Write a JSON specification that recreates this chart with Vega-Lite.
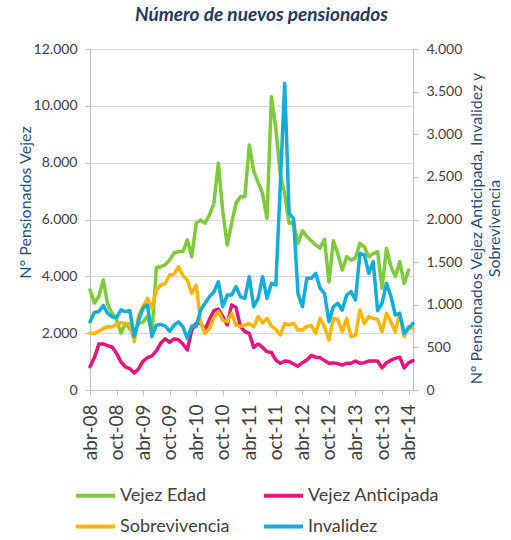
{
  "$schema": "https://vega.github.io/schema/vega-lite/v6.json",
  "width": 323,
  "height": 341,
  "autosize": {"type": "none"},
  "padding": {"left": 90, "top": 49, "right": 98, "bottom": 150},
  "background": "white",
  "title": {"text": "Número de nuevos pensionados", "font": "Lato", "fontSize": 19, "fontStyle": "italic", "fontWeight": "bold", "color": "#1F3864", "anchor": "middle", "offset": 17, "dx": 10},
  "config": {"view": {"stroke": null}},
  "data": {"values": [
    {"mes": "abr-08", "Vejez Edad": 3520, "Vejez Anticipada": 274, "Sobrevivencia": 665, "Invalidez": 800},
    {"mes": "may-08", "Vejez Edad": 3060, "Vejez Anticipada": 380, "Sobrevivencia": 665, "Invalidez": 910},
    {"mes": "jun-08", "Vejez Edad": 3300, "Vejez Anticipada": 540, "Sobrevivencia": 690, "Invalidez": 920},
    {"mes": "jul-08", "Vejez Edad": 3870, "Vejez Anticipada": 540, "Sobrevivencia": 720, "Invalidez": 990},
    {"mes": "ago-08", "Vejez Edad": 3000, "Vejez Anticipada": 520, "Sobrevivencia": 743, "Invalidez": 900},
    {"mes": "sep-08", "Vejez Edad": 2700, "Vejez Anticipada": 505, "Sobrevivencia": 740, "Invalidez": 860},
    {"mes": "oct-08", "Vejez Edad": 2460, "Vejez Anticipada": 430, "Sobrevivencia": 770, "Invalidez": 850},
    {"mes": "nov-08", "Vejez Edad": 2000, "Vejez Anticipada": 330, "Sobrevivencia": 790, "Invalidez": 940},
    {"mes": "dic-08", "Vejez Edad": 2350, "Vejez Anticipada": 270, "Sobrevivencia": 770, "Invalidez": 920},
    {"mes": "ene-09", "Vejez Edad": 2150, "Vejez Anticipada": 250, "Sobrevivencia": 780, "Invalidez": 930},
    {"mes": "feb-09", "Vejez Edad": 2000, "Vejez Anticipada": 200, "Sobrevivencia": 570, "Invalidez": 626},
    {"mes": "mar-09", "Vejez Edad": 2350, "Vejez Anticipada": 250, "Sobrevivencia": 880, "Invalidez": 821},
    {"mes": "abr-09", "Vejez Edad": 2400, "Vejez Anticipada": 340, "Sobrevivencia": 980, "Invalidez": 960},
    {"mes": "may-09", "Vejez Edad": 2600, "Vejez Anticipada": 380, "Sobrevivencia": 1075, "Invalidez": 997},
    {"mes": "jun-09", "Vejez Edad": 2000, "Vejez Anticipada": 400, "Sobrevivencia": 958, "Invalidez": 626},
    {"mes": "jul-09", "Vejez Edad": 4310, "Vejez Anticipada": 460, "Sobrevivencia": 1173, "Invalidez": 760},
    {"mes": "ago-09", "Vejez Edad": 4340, "Vejez Anticipada": 550, "Sobrevivencia": 1232, "Invalidez": 770},
    {"mes": "sep-09", "Vejez Edad": 4400, "Vejez Anticipada": 600, "Sobrevivencia": 1250, "Invalidez": 750},
    {"mes": "oct-09", "Vejez Edad": 4580, "Vejez Anticipada": 560, "Sobrevivencia": 1349, "Invalidez": 690},
    {"mes": "nov-09", "Vejez Edad": 4820, "Vejez Anticipada": 600, "Sobrevivencia": 1360, "Invalidez": 760},
    {"mes": "dic-09", "Vejez Edad": 4870, "Vejez Anticipada": 590, "Sobrevivencia": 1447, "Invalidez": 800},
    {"mes": "ene-10", "Vejez Edad": 4870, "Vejez Anticipada": 540, "Sobrevivencia": 1340, "Invalidez": 740},
    {"mes": "feb-10", "Vejez Edad": 5280, "Vejez Anticipada": 469, "Sobrevivencia": 1290, "Invalidez": 606},
    {"mes": "mar-10", "Vejez Edad": 4690, "Vejez Anticipada": 704, "Sobrevivencia": 1134, "Invalidez": 750},
    {"mes": "abr-10", "Vejez Edad": 5870, "Vejez Anticipada": 782, "Sobrevivencia": 1232, "Invalidez": 743},
    {"mes": "may-10", "Vejez Edad": 5980, "Vejez Anticipada": 782, "Sobrevivencia": 800, "Invalidez": 938},
    {"mes": "jun-10", "Vejez Edad": 5870, "Vejez Anticipada": 704, "Sobrevivencia": 665, "Invalidez": 1017},
    {"mes": "jul-10", "Vejez Edad": 6160, "Vejez Anticipada": 830, "Sobrevivencia": 720, "Invalidez": 1095},
    {"mes": "ago-10", "Vejez Edad": 6570, "Vejez Anticipada": 930, "Sobrevivencia": 850, "Invalidez": 1150},
    {"mes": "sep-10", "Vejez Edad": 7980, "Vejez Anticipada": 950, "Sobrevivencia": 919, "Invalidez": 1271},
    {"mes": "oct-10", "Vejez Edad": 6300, "Vejez Anticipada": 860, "Sobrevivencia": 820, "Invalidez": 977},
    {"mes": "nov-10", "Vejez Edad": 5100, "Vejez Anticipada": 762, "Sobrevivencia": 801, "Invalidez": 1114},
    {"mes": "dic-10", "Vejez Edad": 5870, "Vejez Anticipada": 997, "Sobrevivencia": 900, "Invalidez": 1114},
    {"mes": "ene-11", "Vejez Edad": 6570, "Vejez Anticipada": 970, "Sobrevivencia": 760, "Invalidez": 1212},
    {"mes": "feb-11", "Vejez Edad": 6800, "Vejez Anticipada": 743, "Sobrevivencia": 743, "Invalidez": 1095},
    {"mes": "mar-11", "Vejez Edad": 6800, "Vejez Anticipada": 684, "Sobrevivencia": 762, "Invalidez": 1075},
    {"mes": "abr-11", "Vejez Edad": 8620, "Vejez Anticipada": 665, "Sobrevivencia": 780, "Invalidez": 1329},
    {"mes": "may-11", "Vejez Edad": 7700, "Vejez Anticipada": 500, "Sobrevivencia": 740, "Invalidez": 977},
    {"mes": "jun-11", "Vejez Edad": 7300, "Vejez Anticipada": 540, "Sobrevivencia": 860, "Invalidez": 1075},
    {"mes": "jul-11", "Vejez Edad": 6920, "Vejez Anticipada": 500, "Sobrevivencia": 790, "Invalidez": 1329},
    {"mes": "ago-11", "Vejez Edad": 6040, "Vejez Anticipada": 450, "Sobrevivencia": 841, "Invalidez": 1075},
    {"mes": "sep-11", "Vejez Edad": 10320, "Vejez Anticipada": 440, "Sobrevivencia": 750, "Invalidez": 1251},
    {"mes": "oct-11", "Vejez Edad": 9200, "Vejez Anticipada": 350, "Sobrevivencia": 710, "Invalidez": 1232},
    {"mes": "nov-11", "Vejez Edad": 7600, "Vejez Anticipada": 313, "Sobrevivencia": 645, "Invalidez": 2400},
    {"mes": "dic-11", "Vejez Edad": 6900, "Vejez Anticipada": 340, "Sobrevivencia": 780, "Invalidez": 3598},
    {"mes": "ene-12", "Vejez Edad": 5870, "Vejez Anticipada": 335, "Sobrevivencia": 765, "Invalidez": 2073},
    {"mes": "feb-12", "Vejez Edad": 5900, "Vejez Anticipada": 305, "Sobrevivencia": 782, "Invalidez": 2014},
    {"mes": "mar-12", "Vejez Edad": 5150, "Vejez Anticipada": 280, "Sobrevivencia": 704, "Invalidez": 1134},
    {"mes": "abr-12", "Vejez Edad": 5600, "Vejez Anticipada": 320, "Sobrevivencia": 704, "Invalidez": 977},
    {"mes": "may-12", "Vejez Edad": 5400, "Vejez Anticipada": 352, "Sobrevivencia": 743, "Invalidez": 1310},
    {"mes": "jun-12", "Vejez Edad": 5250, "Vejez Anticipada": 405, "Sobrevivencia": 760, "Invalidez": 1310},
    {"mes": "jul-12", "Vejez Edad": 5100, "Vejez Anticipada": 385, "Sobrevivencia": 665, "Invalidez": 1369},
    {"mes": "ago-12", "Vejez Edad": 5000, "Vejez Anticipada": 380, "Sobrevivencia": 841, "Invalidez": 1193},
    {"mes": "sep-12", "Vejez Edad": 5300, "Vejez Anticipada": 345, "Sobrevivencia": 740, "Invalidez": 1134},
    {"mes": "oct-12", "Vejez Edad": 3800, "Vejez Anticipada": 315, "Sobrevivencia": 586, "Invalidez": 801},
    {"mes": "nov-12", "Vejez Edad": 5250, "Vejez Anticipada": 318, "Sobrevivencia": 841, "Invalidez": 977},
    {"mes": "dic-12", "Vejez Edad": 4800, "Vejez Anticipada": 310, "Sobrevivencia": 830, "Invalidez": 1017},
    {"mes": "ene-13", "Vejez Edad": 4220, "Vejez Anticipada": 293, "Sobrevivencia": 684, "Invalidez": 938},
    {"mes": "feb-13", "Vejez Edad": 4690, "Vejez Anticipada": 313, "Sobrevivencia": 841, "Invalidez": 1114},
    {"mes": "mar-13", "Vejez Edad": 4570, "Vejez Anticipada": 313, "Sobrevivencia": 626, "Invalidez": 1153},
    {"mes": "abr-13", "Vejez Edad": 4650, "Vejez Anticipada": 340, "Sobrevivencia": 640, "Invalidez": 1056},
    {"mes": "may-13", "Vejez Edad": 5160, "Vejez Anticipada": 315, "Sobrevivencia": 938, "Invalidez": 1603},
    {"mes": "jun-13", "Vejez Edad": 5040, "Vejez Anticipada": 320, "Sobrevivencia": 782, "Invalidez": 1584},
    {"mes": "jul-13", "Vejez Edad": 4690, "Vejez Anticipada": 340, "Sobrevivencia": 860, "Invalidez": 1369},
    {"mes": "ago-13", "Vejez Edad": 4800, "Vejez Anticipada": 340, "Sobrevivencia": 840, "Invalidez": 1505},
    {"mes": "sep-13", "Vejez Edad": 4870, "Vejez Anticipada": 340, "Sobrevivencia": 830, "Invalidez": 930},
    {"mes": "oct-13", "Vejez Edad": 3580, "Vejez Anticipada": 260, "Sobrevivencia": 684, "Invalidez": 1017},
    {"mes": "nov-13", "Vejez Edad": 4990, "Vejez Anticipada": 320, "Sobrevivencia": 900, "Invalidez": 1251},
    {"mes": "dic-13", "Vejez Edad": 4340, "Vejez Anticipada": 350, "Sobrevivencia": 800, "Invalidez": 1100},
    {"mes": "ene-14", "Vejez Edad": 3990, "Vejez Anticipada": 371, "Sobrevivencia": 684, "Invalidez": 880},
    {"mes": "feb-14", "Vejez Edad": 4520, "Vejez Anticipada": 385, "Sobrevivencia": 900, "Invalidez": 900},
    {"mes": "mar-14", "Vejez Edad": 3750, "Vejez Anticipada": 260, "Sobrevivencia": 626, "Invalidez": 665},
    {"mes": "abr-14", "Vejez Edad": 4220, "Vejez Anticipada": 320, "Sobrevivencia": 743, "Invalidez": 723},
    {"mes": "may-14", "Vejez Anticipada": 344, "Sobrevivencia": 723, "Invalidez": 780}
  ]},
  "encoding": {
    "x": {
      "field": "mes", "type": "ordinal", "sort": null,
      "scale": {"type": "point", "padding": 0},
      "axis": {
        "values": ["abr-08", "oct-08", "abr-09", "oct-09", "abr-10", "oct-10", "abr-11", "oct-11", "abr-12", "oct-12", "abr-13", "oct-13", "abr-14"],
        "title": null, "labelAngle": 270, "labelFont": "Lato", "labelFontSize": 19, "labelColor": "#404040",
        "labelPadding": 9, "tickSize": 5, "tickColor": "#BFBFBF", "domainColor": "#BFBFBF", "grid": false
      }
    }
  },
  "layer": [
    {
      "transform": [{"fold": ["Vejez Edad"], "as": ["serie", "valor"]}, {"filter": "isValid(datum.valor)"}],
      "mark": {"type": "line", "strokeWidth": 3.5, "strokeJoin": "round", "strokeCap": "round"},
      "encoding": {
        "y": {
          "field": "valor", "type": "quantitative", "scale": {"domain": [0, 12000]},
          "axis": {
            "orient": "left", "values": [0, 2000, 4000, 6000, 8000, 10000, 12000],
            "labelExpr": "replace(format(datum.value, ','), ',', '.')",
            "title": "N° Pensionados Vejez", "titleFont": "Lato", "titleFontSize": 16, "titleFontWeight": "normal", "titleColor": "#1F4E79", "titlePadding": 0, "titleY": 153,
            "labelFont": "Lato", "labelFontSize": 14, "labelColor": "#404040", "labelPadding": 8,
            "grid": true, "gridColor": "#D9D9D9", "tickSize": 5, "tickColor": "#BFBFBF", "domainColor": "#BFBFBF"
          }
        },
        "color": {
          "field": "serie", "type": "nominal",
          "scale": {"domain": ["Vejez Edad", "Sobrevivencia", "Vejez Anticipada", "Invalidez"], "range": ["#7DCB3A", "#FFB600", "#E6137E", "#12ADDA"]},
          "legend": {"orient": "none", "legendX": -16, "legendY": 425, "columns": 2, "title": null, "symbolType": "stroke", "symbolSize": 1521, "symbolStrokeWidth": 4, "labelFont": "Lato", "labelFontSize": 18, "labelColor": "#404040", "labelOffset": 3, "columnPadding": 26, "rowPadding": -5}
        }
      }
    },
    {
      "transform": [{"fold": ["Vejez Anticipada", "Sobrevivencia", "Invalidez"], "as": ["serie", "valor"]}],
      "mark": {"type": "line", "strokeWidth": 3.5, "strokeJoin": "round", "strokeCap": "round"},
      "encoding": {
        "y": {
          "field": "valor", "type": "quantitative", "scale": {"domain": [0, 4000]},
          "axis": {
            "orient": "right", "values": [0, 500, 1000, 1500, 2000, 2500, 3000, 3500, 4000],
            "labelExpr": "replace(format(datum.value, ','), ',', '.')",
            "title": ["N° Pensionados Vejez Anticipada, Invalidez y", "Sobrevivencia"], "titleAngle": 270, "titleBaseline": "top", "titleAlign": "center",
            "titleX": 55, "titleY": 179, "titleLineHeight": 18,
            "titleFont": "Lato", "titleFontSize": 16, "titleFontWeight": "normal", "titleColor": "#1F4E79",
            "labelFont": "Lato", "labelFontSize": 14, "labelColor": "#404040", "labelPadding": 8,
            "grid": false, "tickSize": 5, "tickColor": "#BFBFBF", "domainColor": "#BFBFBF"
          }
        },
        "color": {
          "field": "serie", "type": "nominal",
          "scale": {"domain": ["Vejez Edad", "Sobrevivencia", "Vejez Anticipada", "Invalidez"], "range": ["#7DCB3A", "#FFB600", "#E6137E", "#12ADDA"]},
          "legend": {"orient": "none", "legendX": -16, "legendY": 425, "columns": 2, "title": null, "symbolType": "stroke", "symbolSize": 1521, "symbolStrokeWidth": 4, "labelFont": "Lato", "labelFontSize": 18, "labelColor": "#404040", "labelOffset": 3, "columnPadding": 26, "rowPadding": -5}
        }
      }
    }
  ],
  "resolve": {"scale": {"y": "independent"}}
}
